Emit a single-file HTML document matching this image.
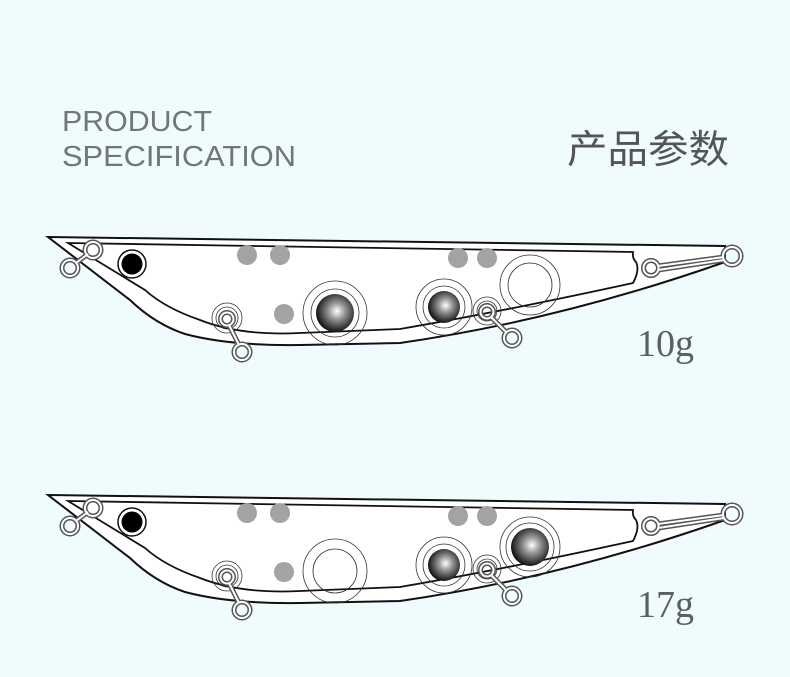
<!DOCTYPE html>
<html><head><meta charset="utf-8"><style>
html,body{margin:0;padding:0;background:#effbfd;}
svg{display:block}
</style></head><body>
<svg width="790" height="677" viewBox="0 0 790 677" xmlns="http://www.w3.org/2000/svg">
<defs>
<radialGradient id="ball" cx="0.55" cy="0.45" r="0.6">
<stop offset="0" stop-color="#fff"/><stop offset="0.35" stop-color="#999"/><stop offset="1" stop-color="#000"/>
</radialGradient>
<g id="body">
<path d="M48,237 L725,246 L725,262 Q560,320 400,343 L300,345 Q230,346 185,334 Q155,324 130,300 Z" fill="#fff" stroke="#111" stroke-width="2"/>
<path d="M68,243 L633,252 Q632,258 636,262 Q640,270 633,283 Q500,312 400,329 L300,333 Q240,336 200,320 Q165,308 145,290 Z" fill="#fff" stroke="#111" stroke-width="1.8"/>
<circle cx="132" cy="264" r="14" fill="#fff" stroke="#111" stroke-width="1.5"/>
<circle cx="132" cy="264" r="10.5" fill="#000"/>
<g fill="#a3a3a3"><circle cx="247" cy="255" r="10"/><circle cx="280" cy="255" r="10"/><circle cx="458" cy="258" r="10"/><circle cx="487" cy="258" r="10"/><circle cx="284" cy="314" r="10"/></g>
<g fill="none" stroke="#555" stroke-width="5"><circle cx="70" cy="268" r="8"/><circle cx="93" cy="250" r="8"/><line x1="76" y1="263" x2="88" y2="254"/></g>
<g fill="none" stroke="#fff" stroke-width="2"><circle cx="70" cy="268" r="8"/><circle cx="93" cy="250" r="8"/><line x1="76" y1="263" x2="88" y2="254"/></g>
<circle cx="227" cy="318" r="15" fill="none" stroke="#333" stroke-width="0.8"/>
<circle cx="227" cy="318" r="11" fill="none" stroke="#333" stroke-width="0.8"/>
<g fill="none" stroke="#555" stroke-width="5"><circle cx="227" cy="319" r="6.5"/><circle cx="242" cy="352" r="8"/><line x1="229" y1="325" x2="239" y2="345"/></g>
<g fill="none" stroke="#fff" stroke-width="2"><circle cx="227" cy="319" r="6.5"/><circle cx="242" cy="352" r="8"/><line x1="229" y1="325" x2="239" y2="345"/></g>
<circle cx="487" cy="311" r="14" fill="none" stroke="#333" stroke-width="0.8"/>
<circle cx="487" cy="311" r="10" fill="none" stroke="#333" stroke-width="0.8"/>
<g fill="none" stroke="#555" stroke-width="5"><circle cx="487" cy="312" r="6.5"/><circle cx="512" cy="338" r="8"/><line x1="491" y1="317" x2="507" y2="333"/></g>
<g fill="none" stroke="#fff" stroke-width="2"><circle cx="487" cy="312" r="6.5"/><circle cx="512" cy="338" r="8"/><line x1="491" y1="317" x2="507" y2="333"/></g>
<g fill="none" stroke="#555" stroke-width="5"><circle cx="651" cy="268" r="7.5"/><circle cx="732" cy="256" r="9"/><line x1="658" y1="266" x2="724" y2="257"/><line x1="658" y1="270" x2="724" y2="260"/></g>
<g fill="none" stroke="#fff" stroke-width="2"><circle cx="651" cy="268" r="7.5"/><circle cx="732" cy="256" r="9"/><line x1="658" y1="266" x2="724" y2="257"/><line x1="658" y1="270" x2="724" y2="260"/></g>
</g>
</defs>
<g font-family="Liberation Sans, sans-serif" fill="#707778" font-size="29">
<text x="62" y="131" textLength="150" lengthAdjust="spacingAndGlyphs">PRODUCT</text>
<text x="62" y="166" textLength="234" lengthAdjust="spacingAndGlyphs">SPECIFICATION</text>
</g>
<text x="567" y="163" font-family="Liberation Sans, Noto Sans CJK SC, sans-serif" font-size="39" fill="#555" textLength="162" lengthAdjust="spacingAndGlyphs">产品参数</text>
<text x="637" y="356" font-family="Liberation Serif, serif" font-size="38" fill="#5a5f60">10g</text>
<text x="637" y="617" font-family="Liberation Serif, serif" font-size="38" fill="#5a5f60">17g</text>

<use href="#body"/>
<g fill="none" stroke="#333" stroke-width="0.8">
<circle cx="335" cy="313" r="32"/><circle cx="335" cy="313" r="24"/>
<circle cx="444" cy="307" r="28"/><circle cx="444" cy="307" r="21"/>
<circle cx="530" cy="285" r="30"/><circle cx="530" cy="285" r="22"/>
</g>
<circle cx="335" cy="313" r="19" fill="url(#ball)"/>
<circle cx="444" cy="307" r="16" fill="url(#ball)"/>

<g transform="translate(0,258)">
<use href="#body"/>
<g fill="none" stroke="#333" stroke-width="0.8">
<circle cx="335" cy="313" r="32"/><circle cx="335" cy="313" r="22"/>
<circle cx="444" cy="307" r="28"/><circle cx="444" cy="307" r="21"/>
<circle cx="530" cy="289" r="30"/><circle cx="530" cy="289" r="24"/>
</g>
<circle cx="444" cy="307" r="16" fill="url(#ball)"/>
<circle cx="530" cy="289" r="19" fill="url(#ball)"/>
</g>
</svg>
</body></html>
